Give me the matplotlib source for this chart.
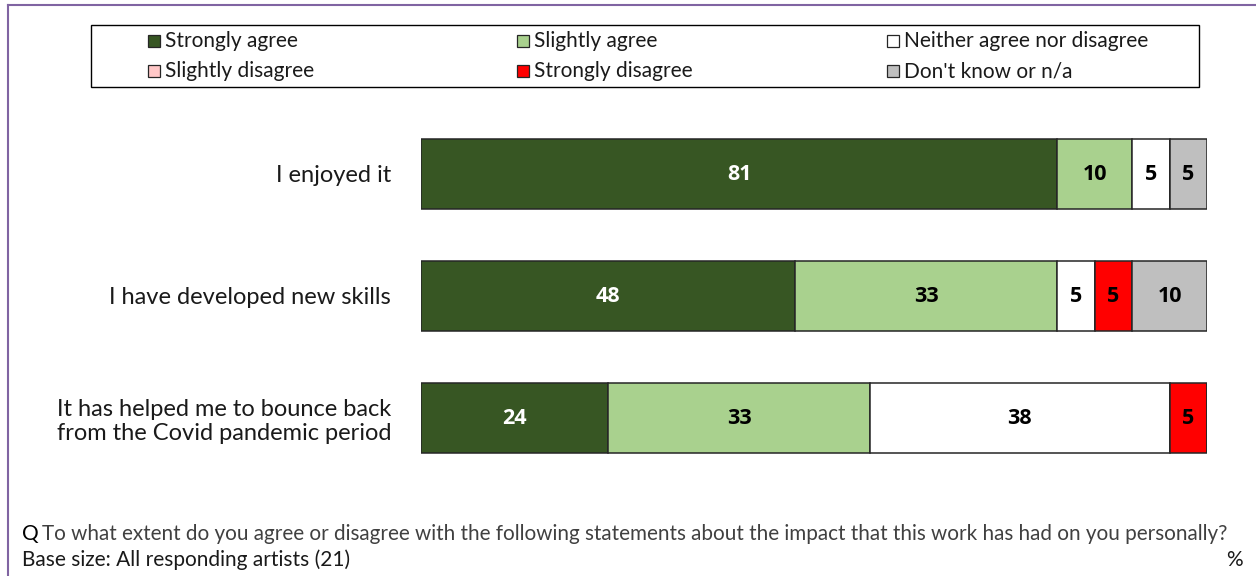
import matplotlib.pyplot as plt
from matplotlib.patches import Rectangle
import numpy as np

plt.rcParams['font.family'] = ['Lato', 'DejaVu Sans']

# survey answers (number of artists, base = 21)
statements = ['I enjoyed it',
              'I have developed new skills',
              'It has helped me to bounce back\nfrom the Covid pandemic period']
responses = ['Strongly agree', 'Slightly agree', 'Neither agree nor disagree',
             'Slightly disagree', 'Strongly disagree', "Don't know or n/a"]
base = 21
strongly_agree = [17, 10, 5]
slightly_agree = [2, 7, 7]
neither = [1, 1, 8]
slightly_disagree = [0, 0, 0]
strongly_disagree = [0, 1, 1]
dont_know = [1, 2, 0]

colors = ['#375623', '#A9D18E', '#FFFFFF', '#FFC7C7', '#FF0000', '#BFBFBF']
text_colors = ['white', 'black', 'black', 'black', 'black', 'black']

counts = np.array([strongly_agree, slightly_agree, neither,
                   slightly_disagree, strongly_disagree, dont_know], dtype=float)
pct = counts / base * 100

fig = plt.figure(figsize=(12.56, 5.76), dpi=100)
ax = fig.add_axes([421 / 1256, 1 - 479 / 576, 786 / 1256, 366 / 576])

y = np.arange(len(statements))
left = np.zeros(len(statements))
for i in range(len(responses)):
    vals = pct[i]
    ax.barh(y, vals, left=left, height=0.574, color=colors[i],
            edgecolor='#262626', linewidth=1.1)
    for j in range(len(statements)):
        if vals[j] > 0:
            ax.text(left[j] + vals[j] / 2, y[j], '%d' % round(vals[j]),
                    ha='center', va='center', fontsize=15.5, fontweight='bold',
                    family=['Open Sans', 'DejaVu Sans'], color=text_colors[i])
    left += vals

ax.set_xlim(0, 100)
ax.set_ylim(2.5, -0.5)
ax.set_yticks(y)
ax.set_yticklabels(statements, fontsize=17, color='#1a1a1a')
ax.tick_params(axis='y', length=0, pad=21.5)
ax.set_xticks([])
for s in ax.spines.values():
    s.set_visible(False)

# legend box across the top
W, H = 1256, 576
fig.patches.append(Rectangle((91 / W, 1 - 87 / H), 1108 / W, 62 / H,
                             transform=fig.transFigure, facecolor='white',
                             edgecolor='black', linewidth=1.0))
col_x = [154, 523, 893]
row_y = [41, 71]
for k, name in enumerate(responses):
    cx = col_x[k % 3]
    cy = row_y[k // 3]
    fig.patches.append(Rectangle(((cx - 6) / W, 1 - (cy + 6) / H), 12 / W, 12 / H,
                                 transform=fig.transFigure, facecolor=colors[k],
                                 edgecolor='#262626', linewidth=0.9))
    fig.text((cx + 11) / W, 1 - cy / H, name, ha='left', va='center',
             fontsize=15, color='#1a1a1a')

# outer frame
fig.add_artist(plt.Line2D([8 / W, 8 / W], [0, 1 - 5 / H], color='#8064A2', linewidth=1.5))
fig.add_artist(plt.Line2D([8 / W, 1], [1 - 5 / H, 1 - 5 / H], color='#8064A2', linewidth=1.5))

# question and base notes
fig.text(22 / W, 1 - 534 / H, 'Q', ha='left', va='center', fontsize=15, color='black')
fig.text(41.5 / W, 1 - 534 / H,
         'To what extent do you agree or disagree with the following statements '
         'about the impact that this work has had on you personally?',
         ha='left', va='center', fontsize=14.9, color='#404040')
fig.text(22 / W, 1 - 560 / H, 'Base size: All responding artists (21)',
         ha='left', va='center', fontsize=15, color='#1a1a1a')
fig.text(1234 / W, 1 - 560 / H, '%', ha='center', va='center', fontsize=15,
         color='#1a1a1a')

fig.savefig('out.png', dpi=100)
